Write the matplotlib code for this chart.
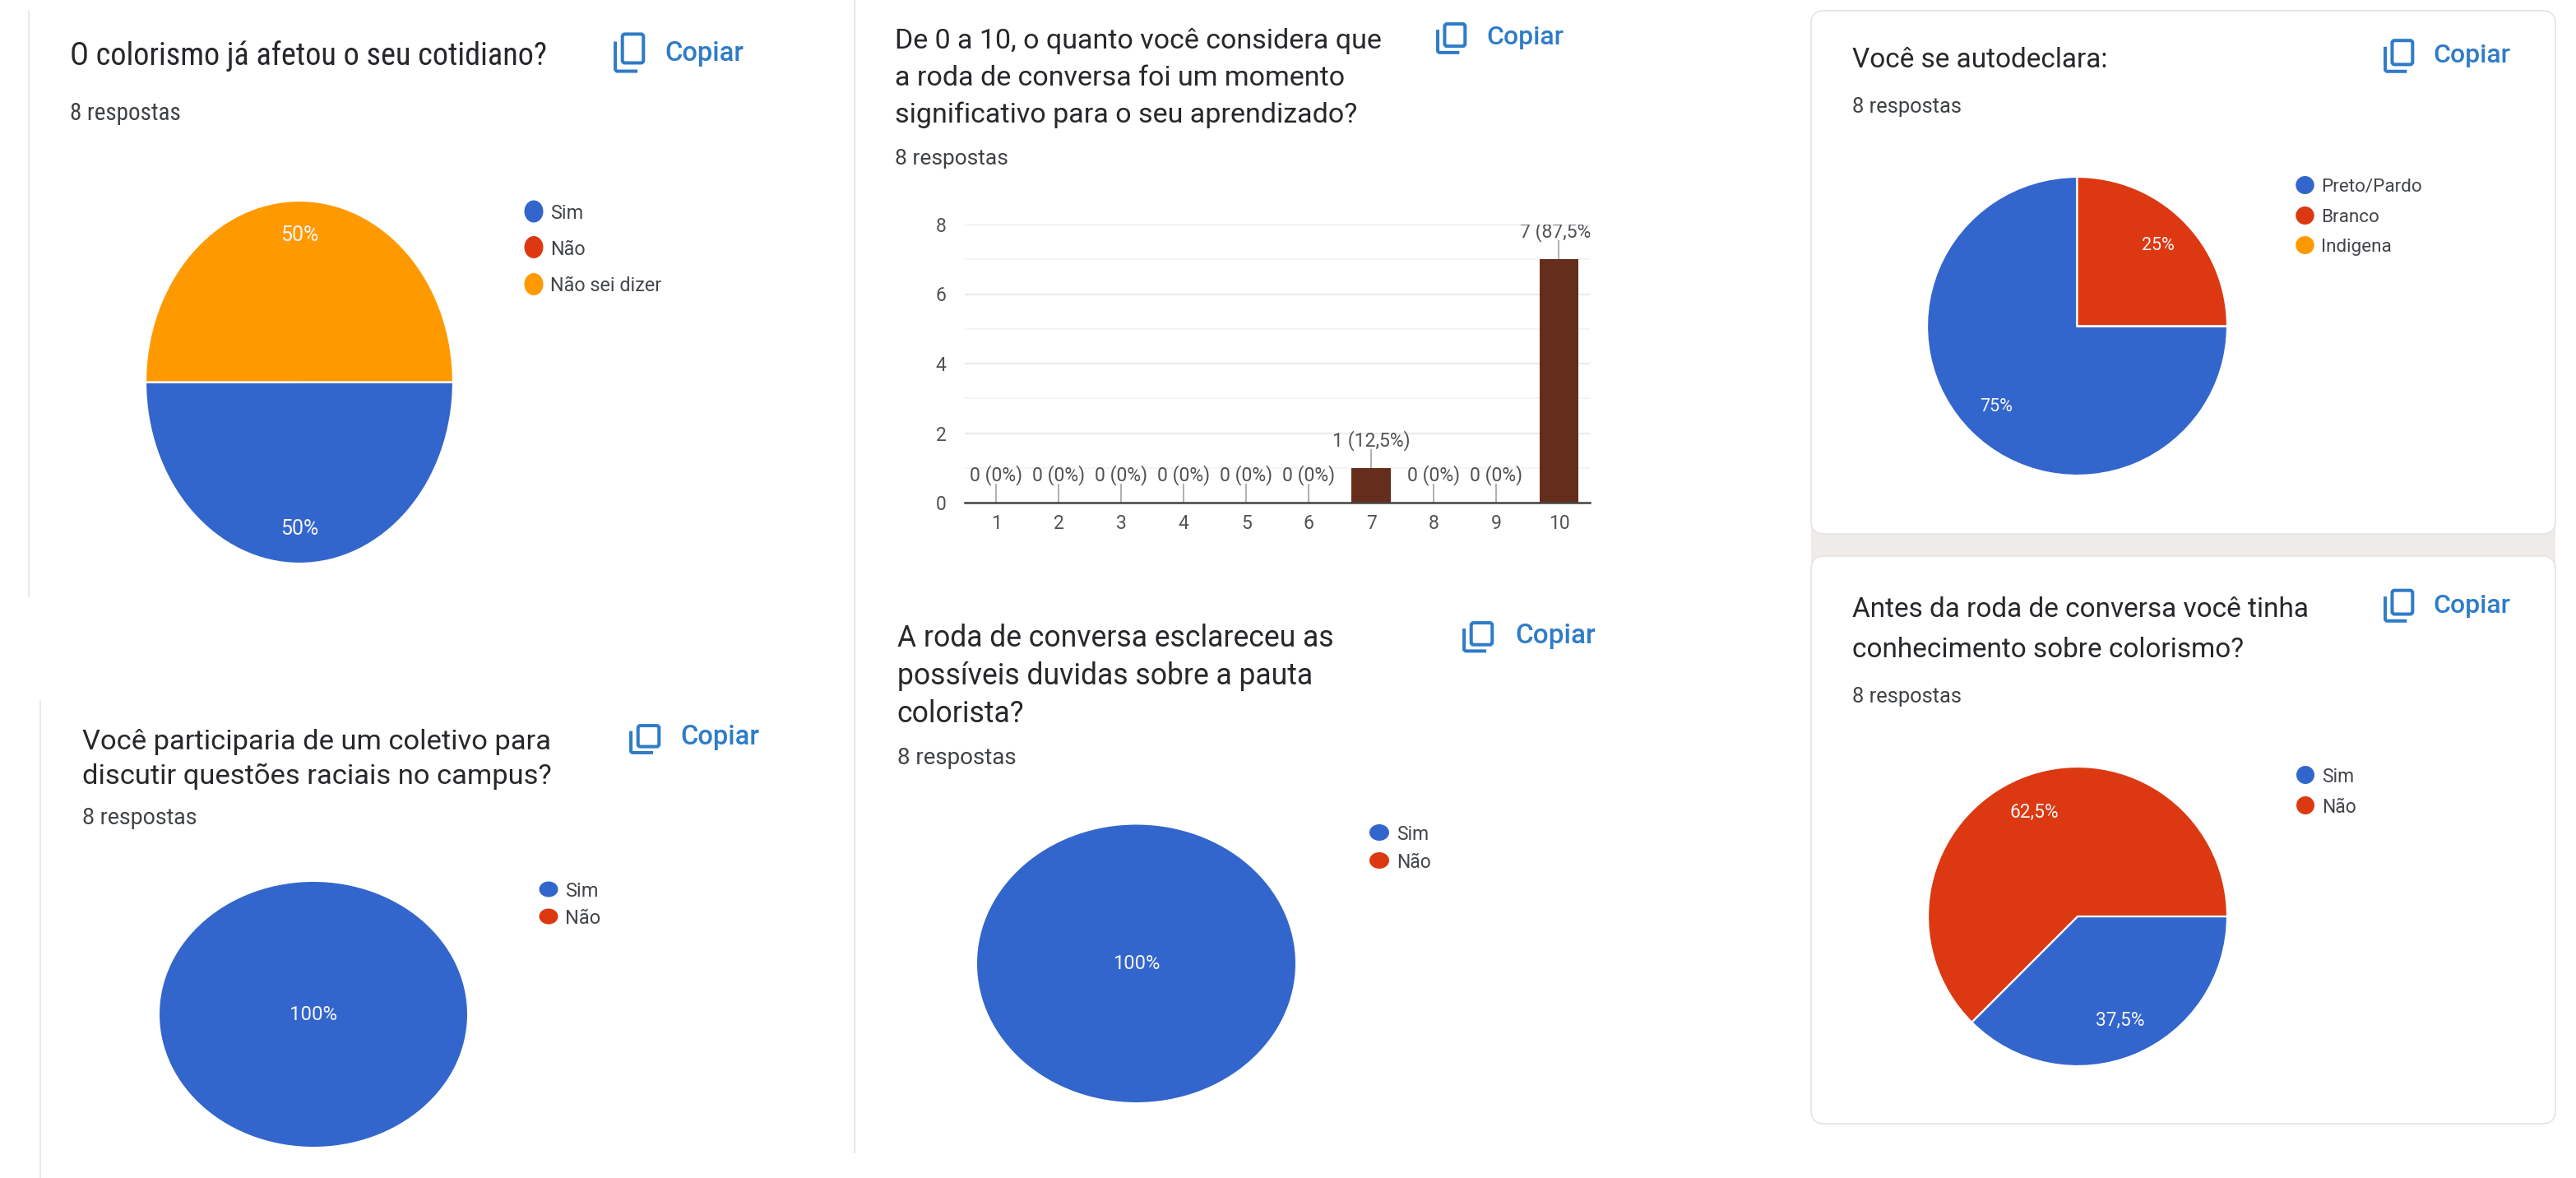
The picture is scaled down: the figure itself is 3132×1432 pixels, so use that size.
"""
Six Google Forms survey result cards, laid out like the original collage.
"""

import matplotlib
matplotlib.use('Agg')
import matplotlib.pyplot as plt
from matplotlib.patches import Ellipse, FancyBboxPatch, Rectangle
from matplotlib import font_manager as fm

W, H = 3132, 1432
BLUE, RED, ORANGE = '#3366cc', '#dc3912', '#ff9900'
PIE_COLORS = [BLUE, RED, ORANGE]
COPY_BLUE = '#2f7cc8'
TITLE_COLOR = '#26282b'
SUB_COLOR = '#3f4245'
LEGEND_COLOR = '#43464a'

# Data (counts out of 8 answers)
colorismo_labels = ['Sim', 'Não', 'Não sei dizer']
colorismo_values = [4, 0, 4]
autodeclara_labels = ['Preto/Pardo', 'Branco', 'Indigena']
autodeclara_values = [6, 2, 0]
conhecimento_labels = ['Sim', 'Não']
conhecimento_values = [3, 5]
coletivo_labels = ['Sim', 'Não']
coletivo_values = [8, 0]
duvidas_labels = ['Sim', 'Não']
duvidas_values = [8, 0]
nota_labels = ['1', '2', '3', '4', '5', '6', '7', '8', '9', '10']
nota_values = [0, 0, 0, 0, 0, 0, 1, 0, 0, 7]
respostas = '8 respostas'

has_condensed = any(f.name == 'Roboto Condensed' for f in fm.fontManager.ttflist)
NARROW = 'Roboto Condensed' if has_condensed else 'Roboto'

plt.rcParams['font.family'] = ['Roboto', 'DejaVu Sans']

fig = plt.figure(figsize=(W / 100, H / 100), dpi=100, facecolor='white')

# Background axes in picture pixels, holds the cards and the free text
bg = fig.add_axes([0, 0, 1, 1], zorder=0)
bg.set_xlim(0, W)
bg.set_ylim(H, 0)
bg.axis('off')


def px_axes(x0, x1, y0, y1, zorder=2):
    """Make an axes from a box given in picture pixels."""
    return fig.add_axes([x0 / W, 1 - y1 / H, (x1 - x0) / W, (y1 - y0) / H], zorder=zorder)


def card(x0, x1, y0, y1):
    bg.add_patch(FancyBboxPatch((x0, y0), x1 - x0, y1 - y0,
                                boxstyle='round,pad=0,rounding_size=16',
                                fc='white', ec='#e3e3e3', lw=1.2, zorder=1))


def edge_line(x, y0, y1):
    bg.plot([x, x], [y0, y1], color='#e9e9e9', lw=1.5, zorder=1)


def copy_icon(x0, x1, y0, y1, text_x, text_y, size=23):
    """Draw the copy glyph and the Copiar word."""
    w, h = x1 - x0, y1 - y0
    lw = 2.9
    bg.add_patch(FancyBboxPatch((x0 + 0.27 * w, y0 + 0.03 * h), 0.71 * w, 0.73 * h,
                                boxstyle='round,pad=0,rounding_size=3',
                                fc='none', ec=COPY_BLUE, lw=lw, zorder=3))
    bg.plot([x0 + 0.03 * w, x0 + 0.03 * w, x0 + 0.08 * w, x0 + 0.78 * w],
            [y0 + 0.22 * h, y0 + 0.93 * h, y0 + 0.97 * h, y0 + 0.97 * h],
            color=COPY_BLUE, lw=lw, solid_capstyle='butt', zorder=3)
    bg.text(text_x, text_y, 'Copiar', color=COPY_BLUE, fontsize=size, va='baseline',
            fontweight='medium', zorder=3)


def titles(x, lines, baselines, size, family='Roboto'):
    for line, y in zip(lines, baselines):
        bg.text(x, y, line, color=TITLE_COLOR, fontsize=size, va='baseline',
                family=family, zorder=3)


def legend(cx, ys, labels, w, h, text_x, size):
    for y, label, color in zip(ys, labels, PIE_COLORS):
        bg.add_patch(Ellipse((cx, y), w, h, fc=color, ec='none', zorder=3))
        bg.text(text_x, y, label, color=LEGEND_COLOR, fontsize=size, va='center_baseline',
                zorder=3)


def pie_label(pct):
    if pct == 0:
        return ''
    return f'{pct:g}%'.replace('.', ',')


def pie_panel(box, values, pctdistance, size):
    ax = px_axes(*box)
    single = max(values) == sum(values)
    _, _, autotexts = ax.pie(values, colors=PIE_COLORS, startangle=0, counterclock=False,
                             radius=1, autopct=pie_label, pctdistance=pctdistance,
                             wedgeprops={'edgecolor': 'white', 'linewidth': 0 if single else 1.6,
                                         'clip_on': False})
    for t in autotexts:
        t.set_color('#f4f4f4')
        t.set_fontsize(size)
    ax.set_aspect('auto')
    ax.set_xlim(-1, 1)
    ax.set_ylim(-1, 1)
    ax.patch.set_alpha(0)
    return ax


# Cards and card edges
bg.add_patch(Rectangle((2202, 625), 905, 75, fc='#efebe9', ec='none', zorder=0.5))
card(2202, 3107, 13, 649)
card(2202, 3107, 676, 1366)
edge_line(34.5, 14, 725)
edge_line(49, 852, 1432)
edge_line(1039, 0, 726)
edge_line(1039, 726, 1401)

# Top left
titles(85, ['O colorismo já afetou o seu cotidiano?'], [79], 27.5, NARROW)
bg.text(85, 146.5, respostas, color=SUB_COLOR, fontsize=21, family=NARROW, va='baseline', zorder=3)
copy_icon(747, 783, 40, 88, 808, 74, size=23.5)
pie_panel((177, 551, 244, 685), colorismo_values, 0.81, 18)
legend(649, [257, 300.5, 345.5], colorismo_labels, 23, 27, 669, 16.8)

# Top middle, the bar chart
titles(1088, ['De 0 a 10, o quanto você considera que',
              'a roda de conversa foi um momento',
              'significativo para o seu aprendizado?'], [59, 104, 149], 24.5)
bg.text(1088, 200, respostas, color=SUB_COLOR, fontsize=19, va='baseline', zorder=3)
copy_icon(1747, 1782, 28, 65, 1807, 53.6)

ax = px_axes(1173, 1933.5, 273, 611)
positions = list(range(1, len(nota_values) + 1))
ax.bar(positions, nota_values, width=0.63, color='#652e1c', linewidth=0, zorder=3)
ax.set_xlim(0.5, 10.5)
ax.set_ylim(0, 8)
ax.set_xticks(positions, nota_labels)
ax.set_yticks([0, 2, 4, 6, 8])
ax.set_yticks([1, 3, 5, 7], minor=True)
ax.grid(axis='y', which='major', color='#ececec', lw=1.6, zorder=0)
ax.grid(axis='y', which='minor', color='#f4f4f4', lw=1.4, zorder=0)
ax.tick_params(axis='both', which='both', length=0, labelsize=16.5, labelcolor='#505356')
ax.tick_params(axis='x', pad=10)
ax.tick_params(axis='y', pad=16)
for side in ['top', 'left', 'right']:
    ax.spines[side].set_visible(False)
ax.spines['bottom'].set_color('#444444')
ax.spines['bottom'].set_linewidth(1.8)
ax.spines['bottom'].set_zorder(4)
ax.patch.set_alpha(0)

total = sum(nota_values)
for pos, value in zip(positions, nota_values):
    pct = f'{100 * value / total:g}'.replace('.', ',')
    ax.vlines(pos, value, value + 0.54, color='#9a9a9a', lw=1.1, zorder=2)
    ax.annotate(f'{value} ({pct}%)', (pos, value), xytext=(0, 24), textcoords='offset points',
                ha='center', va='center', fontsize=16.6, color='#505356', annotation_clip=False,
                clip_on=True)

# Top right
titles(2252, ['Você se autodeclara:'], [81.6], 24)
bg.text(2252, 137, respostas, color=SUB_COLOR, fontsize=18.4, va='baseline', zorder=3)
copy_icon(2899, 2934, 48, 88, 2958, 76)
pie_panel((2343, 2708, 215, 578), autodeclara_values, 0.76, 15.5)
legend(2802.5, [225, 262, 298], autodeclara_labels, 22.5, 22, 2822.5, 16.2)

# Bottom left
titles(100, ['Você participaria de um coletivo para',
             'discutir questões raciais no campus?'], [911, 953.4], 24.8)
bg.text(100, 1002, respostas, color=SUB_COLOR, fontsize=19.2, va='baseline', zorder=3)
copy_icon(766, 802, 881, 916, 827, 905, size=23.5)
pie_panel((194, 568, 1072, 1394), coletivo_values, 0, 17.3)
legend(667, [1081, 1114], coletivo_labels, 23, 19, 687, 17)

# Bottom middle
titles(1090.7, ['A roda de conversa esclareceu as',
                'possíveis duvidas sobre a pauta',
                'colorista?'], [786.5, 832, 877.7], 25.6)
bg.text(1090.7, 929, respostas, color=SUB_COLOR, fontsize=20, va='baseline', zorder=3)
copy_icon(1779, 1815, 756, 792.5, 1842, 782, size=24)
pie_panel((1188, 1575, 1002.5, 1340), duvidas_values, 0, 17)
legend(1677, [1012, 1046], duvidas_labels, 24, 20, 1698, 16.5)

# Bottom right
titles(2251.6, ['Antes da roda de conversa você tinha',
                'conhecimento sobre colorismo?'], [749.7, 799], 24)
bg.text(2251.6, 854, respostas, color=SUB_COLOR, fontsize=18.4, va='baseline', zorder=3)
copy_icon(2899, 2934, 716.5, 756, 2958.5, 744.6)
pie_panel((2344, 2708, 932, 1296), conhecimento_values, 0.75, 16.4)
legend(2803, [942, 979], conhecimento_labels, 22, 22, 2823, 16.5)

fig.savefig('out.png', dpi=100)
